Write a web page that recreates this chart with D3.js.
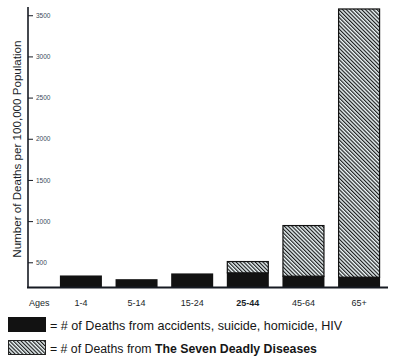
<!DOCTYPE html>
<html>
<head>
<meta charset="utf-8">
<script src="https://cdn.jsdelivr.net/npm/d3@7"></script>
<style>
  html, body { margin: 0; padding: 0; background: #ffffff; }
  svg { display: block; }
  text { font-family: "Liberation Sans", Arial, Helvetica, sans-serif; }
</style>
</head>
<body>
<svg id="chart" width="400" height="361"></svg>
<script>
// ---- data ----
const ages = ["1-4", "5-14", "15-24", "25-44", "45-64", "65+"];
const accidents = [340, 295, 365, 378, 337, 325];      // black segment top (value)
const diseases  = [0, 0, 0, 137, 615, 3257];           // hatched segment (added on top)
const yTicks = [500, 1000, 1500, 2000, 2500, 3000, 3500];
const yTitle = "Number of Deaths per 100,000 Population";
const legend1 = "= # of Deaths from accidents, suicide, homicide, HIV";
const legend2a = "= # of Deaths from ";
const legend2b = "The Seven Deadly Diseases";

const svg = d3.select("#chart");
const ink = "#161a22";

// pattern
const defs = svg.append("defs");
const pat = defs.append("pattern")
  .attr("id", "hatch")
  .attr("patternUnits", "userSpaceOnUse")
  .attr("width", 2.7).attr("height", 2.7)
  .attr("patternTransform", "rotate(-45)");
pat.append("rect").attr("width", 2.7).attr("height", 2.7).attr("fill", "#edf6f8");
pat.append("line").attr("x1", 0.6).attr("y1", 0).attr("x2", 0.6).attr("y2", 2.7)
  .attr("stroke", "#141414").attr("stroke-width", 1.15);

// scales
const axisX = 28;
const y = d3.scaleLinear().domain([200, 3600]).range([287, 7]);
const x = d3.scaleBand().domain(ages).range([46, 394]).paddingInner(0.245).paddingOuter(0.25);

const data = ages.map((a, i) => ({ age: a, acc: accidents[i], dis: diseases[i] }));

// bars: black segment
svg.append("g").selectAll("rect.acc").data(data).join("rect")
  .attr("class", "acc")
  .attr("x", d => x(d.age))
  .attr("width", x.bandwidth())
  .attr("y", d => y(d.acc))
  .attr("height", d => y(y.domain()[0]) - y(d.acc))
  .attr("fill", "#121212");

// hatched segment
svg.append("g").selectAll("rect.dis").data(data.filter(d => d.dis > 0)).join("rect")
  .attr("class", "dis")
  .attr("x", d => x(d.age) + 0.5)
  .attr("width", x.bandwidth() - 1)
  .attr("y", d => y(d.acc + d.dis) + 0.5)
  .attr("height", d => y(d.acc) - y(d.acc + d.dis))
  .attr("fill", "url(#hatch)")
  .attr("stroke", "#111")
  .attr("stroke-width", 1.2);

// y axis (ticks on right side of line)
const yAxis = d3.axisRight(y).tickValues(yTicks).tickSize(5).tickPadding(3).tickFormat(d3.format("d"));
const gy = svg.append("g").attr("transform", `translate(${axisX},0)`).call(yAxis);
gy.select(".domain").attr("stroke", ink).attr("stroke-width", 1.6).attr("d", `M0,${y.range()[1]}V${y.range()[0]}`);
gy.selectAll(".tick line").attr("stroke", ink).attr("stroke-width", 1);
gy.selectAll(".tick text").attr("fill", "#3a4a5a").attr("font-size", 6.5).attr("font-family", "Liberation Sans, Arial, sans-serif");

// baseline
svg.append("line")
  .attr("x1", axisX - 1).attr("x2", 388)
  .attr("y1", y(y.domain()[0]) + 0.5).attr("y2", y(y.domain()[0]) + 0.5)
  .attr("stroke", ink).attr("stroke-width", 2);

// y title
svg.append("text")
  .attr("transform", `translate(21,${(y(3500) + y(200)) / 2 - 2}) rotate(-90)`)
  .attr("text-anchor", "middle")
  .attr("font-size", 11.6)
  .attr("fill", "#1b1f2a")
  .text(yTitle);

// x labels
svg.append("text").attr("x", 29).attr("y", 306).attr("font-size", 9).attr("fill", "#1b1f2a").text("Ages");
svg.append("g").selectAll("text").data(ages).join("text")
  .attr("x", d => x(d) + x.bandwidth() / 2)
  .attr("y", 306)
  .attr("text-anchor", "middle")
  .attr("font-size", 9)
  .attr("font-weight", d => d === "25-44" ? "bold" : "normal")
  .attr("fill", "#1b1f2a")
  .text(d => d);

// legend
svg.append("rect").attr("x", 8).attr("y", 317).attr("width", 38).attr("height", 15).attr("fill", "#121212");
svg.append("text").attr("x", 50).attr("y", 330).attr("font-size", 12.6).attr("fill", "#161616").text(legend1);

svg.append("rect").attr("x", 8.5).attr("y", 340.5).attr("width", 37).attr("height", 14)
  .attr("fill", "url(#hatch)").attr("stroke", "#222").attr("stroke-width", 1);
const t2 = svg.append("text").attr("x", 50).attr("y", 353).attr("font-size", 12.3).attr("fill", "#161616");
t2.append("tspan").text(legend2a);
t2.append("tspan").attr("font-weight", "bold").text(legend2b);
</script>
</body>
</html>
